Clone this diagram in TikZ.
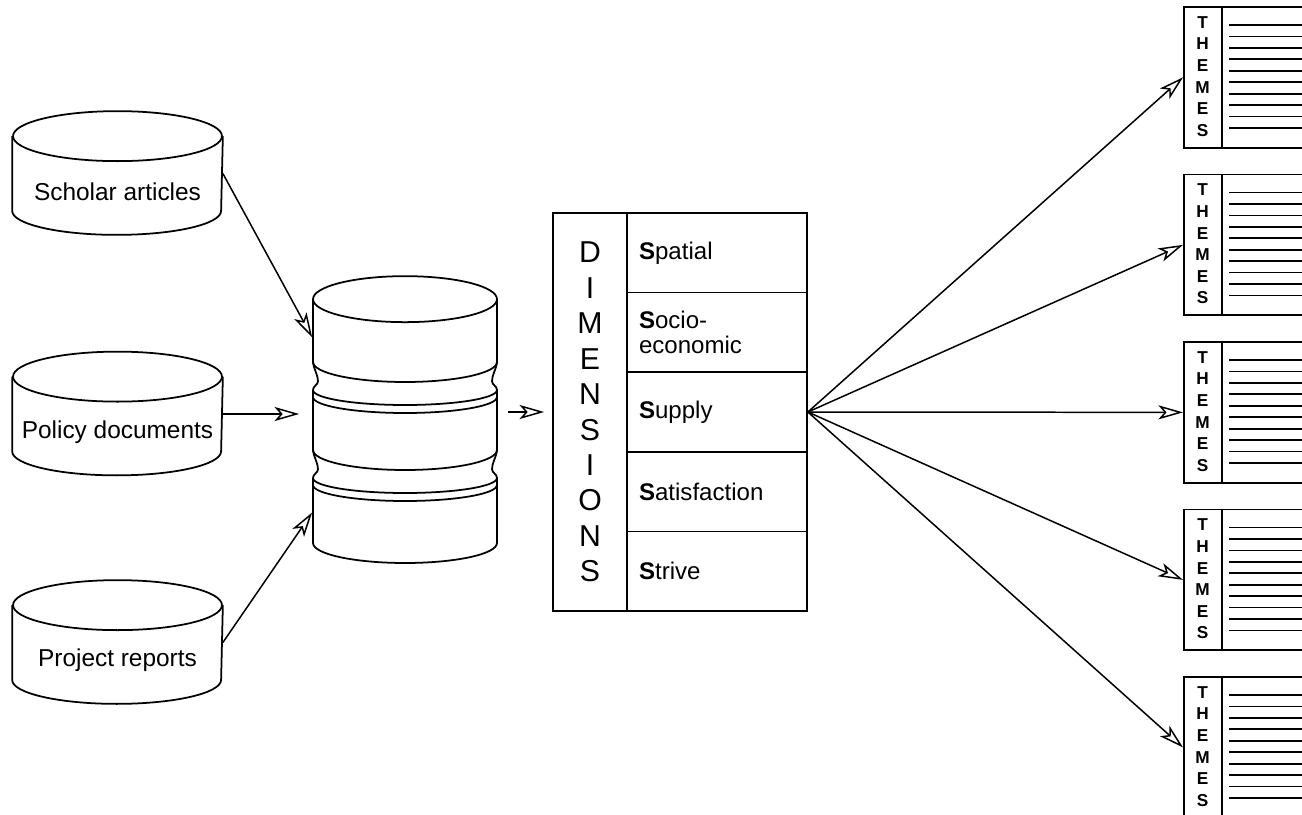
\documentclass[tikz,border=0pt]{standalone}
\usepackage{fontspec}
\setmainfont{Liberation Sans}
\usepackage{tikz}
\usetikzlibrary{arrows.meta, calc}
\tikzset{flow/.style={-{Stealth[open, length=14pt, width=8pt, inset=3.5pt]}, line width=0.85pt}}
\tikzset{body/.style={shape=rectangle, inner sep=0pt, minimum width=4.18cm, minimum height=1.46cm}}
\tikzset{srctext/.style={font=\fontsize{13.9}{16}\selectfont}}
\tikzset{dimrow/.style={draw, shape=rectangle, minimum width=3.6cm, minimum height=1.592cm,
    text width=3.12cm, inner xsep=0.24cm, inner ysep=0pt, align=left,
    font=\fontsize{13.7}{13.9}\selectfont}}
\tikzset{dimcol/.style={draw, shape=rectangle, minimum width=1.48cm, minimum height=7.96cm,
    inner sep=0pt, align=center, font=\fontsize{17.2}{20.2}\selectfont}}
\tikzset{themebox/.style={draw, shape=rectangle, anchor=north west, inner sep=0pt,
    minimum width=3cm, minimum height=2.82cm}}
\tikzset{themetext/.style={font=\bfseries\fontsize{9.8}{12.3}\selectfont, align=center, inner sep=0pt}}

\begin{document}
\begin{tikzpicture}[x=0.02cm, y=-0.02cm, line width=1pt]
  \useasboundingbox (0,0) rectangle (1302,815);
  \clip (0,0) rectangle (1302,815);

  % sources
  \foreach \src/\y/\lbl in {scholar/173.5/Scholar articles, policy/414/Policy documents,
      project/642.5/Project reports} {
    \node[body] (\src) at (117.5,\y) {};
    \draw (\src.north) ellipse [x radius=2.09cm, y radius=0.5cm];
    \draw (\src.north west) -- (\src.south west)
      arc [start angle=180, end angle=360, x radius=2.09cm, y radius=0.48cm] -- (\src.north east);
    \node[srctext] at (117.5,\y+18) {\lbl};
  }

  % stacked store
  \node[shape=rectangle, inner sep=0pt, minimum width=3.68cm, minimum height=4.86cm] (stack) at (405,421.5) {};
  \draw (stack.north) ellipse [x radius=1.84cm, y radius=0.46cm];
  \draw (313,300) -- (313,362) arc [start angle=180, end angle=360, x radius=1.84cm, y radius=0.4cm] -- (497,300);
  \draw (313,390) -- (313,450) arc [start angle=180, end angle=360, x radius=1.84cm, y radius=0.4cm] -- (497,390);
  \draw (313,478) -- (313,543) arc [start angle=180, end angle=360, x radius=1.84cm, y radius=0.4cm] -- (497,478);
  \foreach \ny in {362, 450} {
    \draw (313,\ny) .. controls (314,\ny+8) and (318,\ny+13) .. (318,\ny+19)
      .. controls (318,\ny+23) and (313,\ny+24) .. (313,\ny+28);
    \draw (497,\ny) .. controls (496,\ny+8) and (492,\ny+13) .. (492,\ny+19)
      .. controls (492,\ny+23) and (497,\ny+24) .. (497,\ny+28);
    \draw (313,\ny+28) arc [start angle=180, end angle=360, x radius=1.84cm, y radius=0.3cm];
    \draw (313,\ny+35) arc [start angle=180, end angle=360, x radius=1.84cm, y radius=0.32cm];
  }

  % dimensions table
  \node[dimcol] (dimlabel) at (590,412) {D\\I\\M\\E\\N\\S\\I\\O\\N\\S};
  \node[dimrow] (spatial) at (717,252.8) {\textbf{S}patial};
  \node[dimrow] (socio) at (717,332.4) {\textbf{S}ocio-\\economic};
  \node[dimrow] (supply) at (717,412) {\textbf{S}upply};
  \node[dimrow] (satisfaction) at (717,491.6) {\textbf{S}atisfaction};
  \node[dimrow] (strive) at (717,571.2) {\textbf{S}trive};

  % theme sheets
  \foreach \i/\ty in {1/6, 2/173.5, 3/341, 4/508.5, 5/676} {
    \node[themebox] (theme\i) at (1183,\ty) {};
    \draw (1222,\ty) -- (1222,\ty+141);
    \node[themetext] at (1202.5,\ty+70.5) {T\\H\\E\\M\\E\\S};
    \foreach \k in {0,...,9}
      \draw (1229,\ty+19+11.44*\k) -- (1310,\ty+19+11.44*\k);
  }

  \draw[flow] (scholar.east) -- ($(stack.north west)!0.156!(stack.south west)$);
  \draw[flow, shorten >=0.26cm] (policy.east) -- (policy.east -| stack.west);
  \draw[flow] (project.east) -- ($(stack.north west)!0.872!(stack.south west)$);
  \draw[flow, shorten <=0.2cm, shorten >=0.16cm] (stack.east |- supply.west) -- (dimlabel.west |- supply.west);
  \foreach \i in {1,...,5}
    \draw[flow] (supply.east) -- (theme\i.west);
\end{tikzpicture}
\end{document}
